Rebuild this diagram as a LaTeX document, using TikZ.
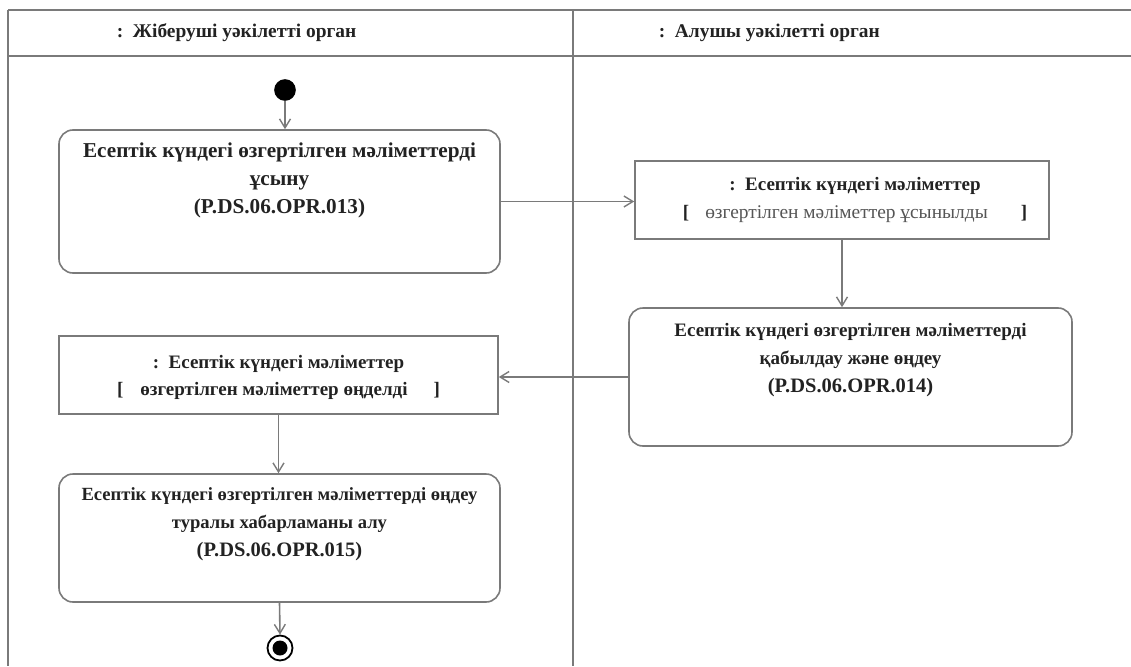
\documentclass[tikz,border=0pt]{standalone}
\usepackage{fontspec}
\setmainfont{Liberation Serif}
\usepackage{tikz}
\usetikzlibrary{arrows.meta,calc}
\definecolor{linegray}{HTML}{7A7A7A}
\definecolor{inkgray}{HTML}{222222}
\newcommand{\opcode}[1]{{\fontsize{20.5}{28}\selectfont #1}}

\begin{document}
\begin{tikzpicture}[x=1pt,y=-1pt,line width=1.6pt,draw=linegray,text=inkgray]
    % `activity' is used for the rounded action boxes.
    % `objectbox' is used for the object nodes (square corners).
    % `flow' is used for every arrow between them.
    \tikzstyle{activity} = [draw,rounded corners=14pt,inner sep=0pt]
    \tikzstyle{objectbox} = [draw,inner sep=0pt]
    \tikzstyle{boxtext} = [align=center,inner sep=0pt,font=\fontsize{19}{28}\selectfont\bfseries]
    \tikzstyle{lanetext} = [anchor=west,inner sep=0pt,font=\fontsize{19.4}{22}\selectfont\bfseries]
    \tikzstyle{flow} = [-{Straight Barb[length=9pt,width=11pt,line width=1.4pt]}]
    %
    \useasboundingbox (0,0) rectangle (1131,666);
    % Swimlane frame.
    \draw[line width=2.6pt] (8,10) -- (1131,10)  (8,56) -- (1131,56);
    \draw[line width=2.2pt] (8,10) -- (8,666)  (573,10) -- (573,666);
    \node[lanetext] (laneL) at (116,33) {:\ \ Жіберуші уәкілетті орган};
    \node[lanetext] (laneR) at (658,33) {:\ \ Алушы уәкілетті орган};
    %
    \node[circle,fill=black,draw=black,minimum size=20pt,inner sep=0pt] (start) at (285,90) {};
    %
    \node[activity,minimum width=441pt,minimum height=143pt] (actA) at (279.5,201.5) {};
    \node[boxtext,anchor=north,font=\fontsize{21.2}{28}\selectfont\bfseries] (txtA) at ($(actA.north)+(0,13)$)
        {Есептік күндегі өзгертілген мәліметтерді\\ ұсыну\\ (P.DS.06.OPR.013)};
    %
    \node[objectbox,minimum width=414pt,minimum height=78pt] (objB) at (842,200) {};
    \node[boxtext,anchor=north] (txtB) at ($(objB.north)+(13,16)$)
        {:\ \ Есептік күндегі мәліметтер\\
         {[}\hspace{16pt}{\fontsize{19.4}{20}\selectfont\mdseries\color{linegray!70!black}өзгертілген мәліметтер ұсынылды}\hspace{33pt}]};
    %
    \node[activity,minimum width=443pt,minimum height=138pt] (actC) at (850.5,377) {};
    \node[boxtext,anchor=north] (txtC) at ($(actC.north)+(0,15)$)
        {Есептік күндегі өзгертілген мәліметтерді\\ қабылдау және өңдеу\\ \opcode{(P.DS.06.OPR.014)}};
    %
    \node[objectbox,minimum width=439pt,minimum height=78pt] (objD) at (278.5,375) {};
    \node[boxtext,anchor=north,font=\fontsize{19}{27}\selectfont\bfseries] (txtD) at ($(objD.north)+(0,19)$)
        {:\ \ Есептік күндегі мәліметтер\\
         {[}\hspace{17pt}өзгертілген мәліметтер өңделді\hspace{26pt}]};
    %
    \node[activity,minimum width=441pt,minimum height=128pt] (actE) at (279.5,538) {};
    \node[boxtext,anchor=north,font=\fontsize{18.6}{28}\selectfont\bfseries] (txtE) at ($(actE.north)+(0,14)$)
        {Есептік күндегі өзгертілген мәліметтерді өңдеу\\ туралы хабарламаны алу\\ \opcode{(P.DS.06.OPR.015)}};
    %
    \node[circle,draw=black,line width=1.8pt,minimum size=25pt,inner sep=0pt] (finish) at (280,648) {};
    \node[circle,fill=black,minimum size=15pt,inner sep=0pt] (finishdot) at (finish) {};
    %
    % Control and object flows.
    \draw[flow] (start) -- (start |- actA.north);
    \draw[flow] (actA.east) -- (actA.east -| objB.west);
    \draw[flow] (objB.south) -- (objB.south |- actC.north);
    \draw[flow] (actC.west) -- (actC.west -| objD.east);
    \draw[flow] (objD.south) -- (objD.south |- actE.north);
    \draw[flow] (actE.south) -- (finish.north);
\end{tikzpicture}
\end{document}
